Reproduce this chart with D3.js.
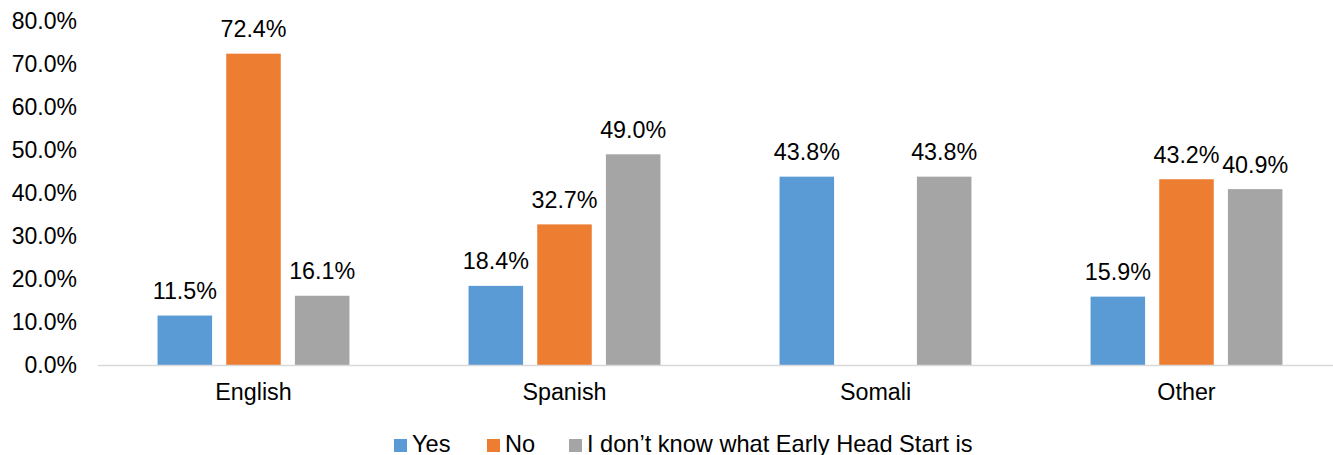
<!DOCTYPE html>
<html>
<head>
<meta charset="utf-8">
<script src="https://cdn.jsdelivr.net/npm/d3@7"></script>
<style>
  html, body { margin: 0; padding: 0; background: #fff; }
  svg { display: block; font-family: "Liberation Sans", Arial, sans-serif; }
</style>
</head>
<body>
<svg id="chart" width="1333" height="455"></svg>
<script>
// Survey answers by home language
const categories = ["English", "Spanish", "Somali", "Other"];
const seriesNames = ["Yes", "No", "I don\u2019t know what Early Head Start is"];
const yesValues = [11.5, 18.4, 43.8, 15.9];
const noValues = [72.4, 32.7, null, 43.2];
const dontKnowValues = [16.1, 49.0, 43.8, 40.9];
const yTicks = [0, 10, 20, 30, 40, 50, 60, 70, 80];
const colors = ["#5B9BD5", "#ED7D31", "#A5A5A5"];

const series = [yesValues, noValues, dontKnowValues];

const svg = d3.select("#chart");
const plotLeft = 98, plotRight = 1342, plotTop = 21, plotBottom = 365;

const x0 = d3.scaleBand().domain(categories).range([plotLeft, plotRight]).paddingInner(0.383).paddingOuter(0.1915);
const x1 = d3.scaleBand().domain(d3.range(series.length)).range([0, x0.bandwidth()]).paddingInner(0.206);
const y = d3.scaleLinear().domain([0, 80]).range([plotBottom, plotTop]);

// Y axis labels (no line, no ticks)
const yAxis = d3.axisLeft(y).tickValues(yTicks).tickSize(0).tickPadding(0)
  .tickFormat(d => d.toFixed(1) + "%");
svg.append("g")
  .attr("transform", `translate(77,0)`)
  .call(yAxis)
  .call(g => g.select(".domain").remove())
  .call(g => g.selectAll("text").attr("font-size", 23).attr("fill", "#000")
    .attr("font-family", "'Liberation Sans', Arial, sans-serif"));

// Bars
const groups = svg.append("g").selectAll("g")
  .data(categories)
  .join("g")
  .attr("transform", d => `translate(${x0(d)},0)`);

series.forEach((vals, si) => {
  groups.filter((c, ci) => vals[ci] != null)
    .append("rect")
    .attr("x", x1(si))
    .attr("width", x1.bandwidth())
    .attr("y", (c) => y(vals[categories.indexOf(c)]))
    .attr("height", (c) => y(0) - y(vals[categories.indexOf(c)]))
    .attr("fill", colors[si]);
  groups.filter((c, ci) => vals[ci] != null)
    .append("text")
    .attr("x", x1(si) + x1.bandwidth() / 2)
    .attr("y", (c) => y(vals[categories.indexOf(c)]) - 16.5)
    .attr("text-anchor", "middle")
    .attr("font-size", 23.3)
    .attr("fill", "#000")
    .text((c) => vals[categories.indexOf(c)].toFixed(1) + "%");
});

// X axis baseline and category labels
svg.append("line")
  .attr("x1", plotLeft).attr("x2", 1333)
  .attr("y1", plotBottom + 0.5).attr("y2", plotBottom + 0.5)
  .attr("stroke", "#D9D9D9").attr("stroke-width", 1.5);

svg.append("g").selectAll("text")
  .data(categories)
  .join("text")
  .attr("x", d => x0(d) + x0.bandwidth() / 2)
  .attr("y", 400)
  .attr("text-anchor", "middle")
  .attr("font-size", 23.3)
  .attr("fill", "#000")
  .text(d => d);

// Legend
const legendX = [394, 487, 569];
const legend = svg.append("g").selectAll("g")
  .data(seriesNames)
  .join("g")
  .attr("transform", (d, i) => `translate(${legendX[i]},0)`);
legend.append("rect")
  .attr("x", 0).attr("y", 439).attr("width", 13).attr("height", 13)
  .attr("fill", (d, i) => colors[i]);
legend.append("text")
  .attr("x", 18).attr("y", 451.5)
  .attr("font-size", 23.6)
  .attr("fill", "#000")
  .text(d => d);
</script>
</body>
</html>
